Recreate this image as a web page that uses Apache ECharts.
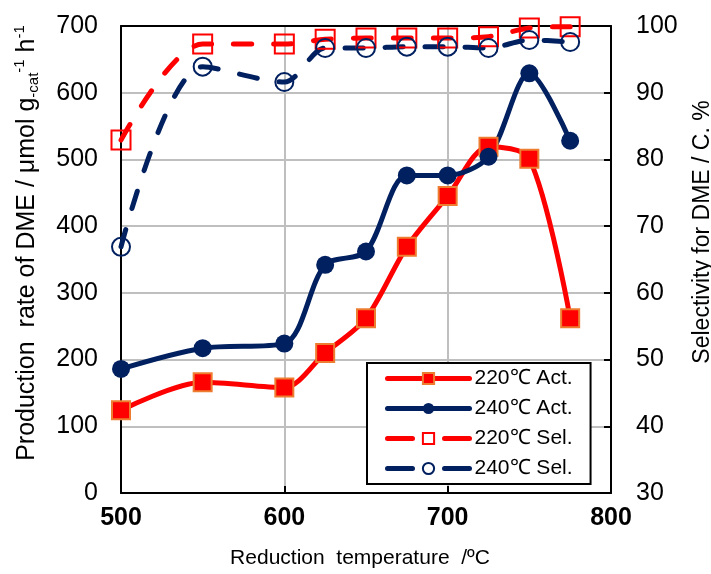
<!DOCTYPE html>
<html>
<head>
<meta charset="utf-8">
<script src="https://cdn.jsdelivr.net/npm/echarts@6/dist/echarts.min.js"></script>
<style>
  html, body { margin: 0; padding: 0; background: #fff; }
  #chart { width: 711px; height: 574px; }
</style>
</head>
<body>
<div id="chart"></div>
<script>
  // reduction temperature, deg C
  const temps = [500, 550, 600, 625, 650, 675, 700, 725, 750, 775]
  // production rate, umol g-cat-1 h-1
  const act220 = [124, 166, 158, 210, 262, 369, 445, 519, 501, 262]
  const act240 = [186, 217, 224, 342, 362, 476, 476, 504, 629, 528]
  // selectivity, C.%
  const sel220 = [82.9, 97.3, 97.3, 98.0, 98.2, 98.2, 98.2, 98.4, 99.7, 99.9]
  const sel240 = [66.9, 93.9, 91.6, 96.7, 96.7, 96.9, 96.9, 96.7, 97.9, 97.6]

  const FONT = "'Liberation Sans', Arial, sans-serif"
  const RED = '#ff0000'
  const NAVY = '#002060'

  const pairs = (vals) => temps.map((t, i) => [t, vals[i]])

  const chart = echarts.init(document.getElementById('chart'))

  const option = {
    animation: false,
    textStyle: { fontFamily: FONT },
    grid: { left: 121, right: 100, top: 26, bottom: 81 },
    legend: {
      orient: 'vertical',
      left: 367,
      top: 363,
      padding: [5, 18, 5, 18],
      itemGap: 9,
      itemWidth: 82,
      itemHeight: 14,
      backgroundColor: '#fff',
      borderColor: '#000',
      borderWidth: 2,
      borderRadius: 0,
      lineStyle: { width: 5, cap: 'round' },
      textStyle: { fontFamily: FONT, fontSize: 21, color: '#000' },
      data: [
        { name: '220℃ Act.' },
        { name: '240℃ Act.' },
        { name: '220℃ Sel.', lineStyle: { width: 5, type: [25, 32], cap: 'round' } },
        { name: '240℃ Sel.', lineStyle: { width: 5, type: [25, 32], cap: 'round' } }
      ]
    },
    graphic: [
      {
        type: 'text',
        x: 27,
        y: 243,
        rotation: Math.PI / 2,
        style: {
          text: '{n|Production  rate of DME / μmol g}{sub|-cat}{sup|-1}{n| h}{sup|-1}',
          align: 'center',
          verticalAlign: 'middle',
          rich: {
            n: { fontFamily: FONT, fontSize: 25, fill: '#000', verticalAlign: 'middle', lineHeight: 29 },
            sub: { fontFamily: FONT, fontSize: 15, fill: '#000', verticalAlign: 'bottom', lineHeight: 29 },
            sup: { fontFamily: FONT, fontSize: 15, fill: '#000', verticalAlign: 'top', lineHeight: 29 }
          }
        }
      },
      {
        type: 'text',
        x: 703,
        y: 232,
        rotation: Math.PI / 2,
        style: {
          text: 'Selectivity for DME / C. %',
          align: 'center',
          verticalAlign: 'middle',
          fontFamily: FONT,
          fontSize: 23,
          fill: '#000'
        }
      }
    ],
    xAxis: [
      {
        type: 'value',
        min: 500,
        max: 800,
        interval: 100,
        name: 'Reduction  temperature  /ºC',
        nameLocation: 'middle',
        nameGap: 55,
        nameTextStyle: { fontFamily: FONT, fontSize: 21, color: '#000', padding: [0, 12, 0, 0] },
        axisLine: { lineStyle: { color: '#000', width: 2 } },
        axisTick: { inside: true, length: 7, lineStyle: { color: '#000', width: 2 } },
        axisLabel: { fontFamily: FONT, fontSize: 25, fontWeight: 'bold', color: '#000', margin: 13 },
        splitLine: { show: true, lineStyle: { color: '#bfbfbf', width: 2 } }
      },
      {
        type: 'value',
        position: 'top',
        min: 500,
        max: 800,
        interval: 100,
        axisLine: { lineStyle: { color: '#000', width: 2 } },
        axisTick: { show: false },
        axisLabel: { show: false },
        splitLine: { show: false }
      }
    ],
    yAxis: [
      {
        type: 'value',
        min: 0,
        max: 700,
        interval: 100,
        axisLine: { show: true, lineStyle: { color: '#000', width: 2 } },
        axisTick: { show: false },
        axisLabel: { fontFamily: FONT, fontSize: 25, color: '#000', margin: 23 },
        splitLine: { show: true, lineStyle: { color: '#bfbfbf', width: 2 } }
      },
      {
        type: 'value',
        min: 30,
        max: 100,
        interval: 10,
        position: 'right',
        axisLine: { show: true, lineStyle: { color: '#000', width: 2 } },
        axisTick: { show: true, inside: true, length: 7, lineStyle: { color: '#000', width: 2 } },
        axisLabel: { fontFamily: FONT, fontSize: 25, color: '#000', margin: 25 },
        splitLine: { show: false }
      }
    ],
    series: [
      {
        name: '220℃ Act.',
        type: 'line',
        yAxisIndex: 0,
        smooth: 0.3,
        symbol: 'rect',
        symbolSize: 18,
        lineStyle: { color: RED, width: 5 },
        itemStyle: { color: RED, borderColor: '#ed7d31', borderWidth: 2 },
        data: pairs(act220)
      },
      {
        name: '240℃ Act.',
        type: 'line',
        yAxisIndex: 0,
        smooth: 0.3,
        symbol: 'circle',
        symbolSize: 18,
        lineStyle: { color: NAVY, width: 5 },
        itemStyle: { color: NAVY },
        data: pairs(act240)
      },
      {
        name: '220℃ Sel.',
        type: 'line',
        yAxisIndex: 1,
        smooth: 0.3,
        symbol: 'rect',
        symbolSize: 19,
        lineStyle: { color: RED, width: 5, type: [18, 22], cap: 'round' },
        itemStyle: { color: 'rgba(0,0,0,0)', borderColor: RED, borderWidth: 2 },
        data: pairs(sel220)
      },
      {
        name: '240℃ Sel.',
        type: 'line',
        yAxisIndex: 1,
        smooth: 0.3,
        symbol: 'circle',
        symbolSize: 18,
        lineStyle: { color: NAVY, width: 5, type: [18, 22], cap: 'round' },
        itemStyle: { color: 'rgba(0,0,0,0)', borderColor: NAVY, borderWidth: 2 },
        data: pairs(sel240)
      }
    ]
  }

  chart.setOption(option)
</script>
</body>
</html>
